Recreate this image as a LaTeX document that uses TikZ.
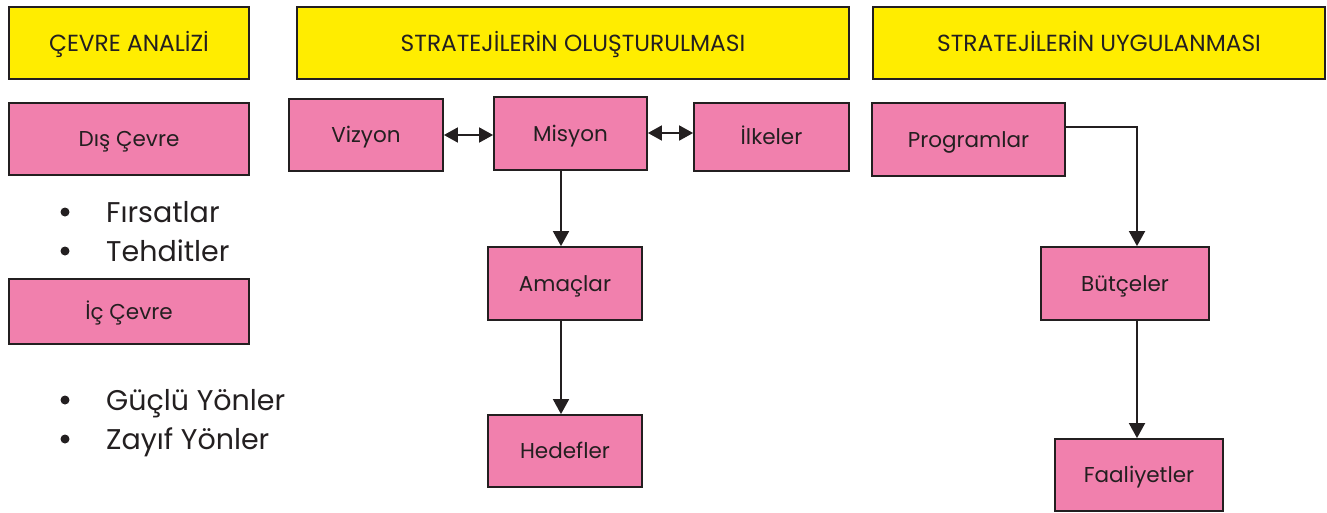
\documentclass[tikz,border=0pt]{standalone}
\usepackage{fontspec}
\setmainfont{Poppins}
\usetikzlibrary{arrows.meta}
\definecolor{ylw}{RGB}{255,237,0}
\definecolor{pnk}{RGB}{241,128,173}
\definecolor{ink}{RGB}{35,31,32}
\tikzset{
  boxbase/.style={draw=ink, line width=1.8pt, rectangle, inner sep=0pt, text=ink,
    text height=15pt, text depth=0pt, font=\fontsize{21.5}{25}\selectfont},
  headbox/.style={boxbase, fill=ylw, text height=16pt, font=\fontsize{23.3}{27}\selectfont},
  pinkbox/.style={boxbase, fill=pnk},
  listitem/.style={anchor=base west, inner sep=0pt, text=ink, font=\fontsize{28.5}{33}\selectfont},
  dot/.style={circle, fill=ink, inner sep=0pt, minimum size=9pt},
  arr/.style={draw=ink, line width=1.8pt, -{Triangle[length=15pt,width=16pt]}},
  darr/.style={draw=ink, line width=1.8pt, {Triangle[length=14pt,width=15pt]}-{Triangle[length=14pt,width=15pt]}}
}
\begin{document}
\begin{tikzpicture}[x=1pt,y=-1pt]
\useasboundingbox (0,0) rectangle (1327,512);
% headers
\node[headbox, minimum width=240pt, minimum height=72pt] (h1) at (129,43) {ÇEVRE ANALİZİ};
\node[headbox, minimum width=552pt, minimum height=72pt] (h2) at (573,43) {STRATEJİLERİN OLUŞTURULMASI};
\node[headbox, minimum width=452pt, minimum height=72pt] (h3) at (1099,43) {STRATEJİLERİN UYGULANMASI};
% left column
\node[pinkbox, minimum width=240pt, minimum height=72pt] (dis) at (129,139) {Dış Çevre};
\node[pinkbox, minimum width=240pt, minimum height=65pt] (ic) at (129,311.5) {İç Çevre};
\node[dot] (b1) at (65,212) {};
\node[dot] (b2) at (65,251) {};
\node[dot] (b3) at (65,400) {};
\node[dot] (b4) at (65,439) {};
\node[listitem] (l1) at (106,222) {Fırsatlar};
\node[listitem] (l2) at (106,261) {Tehditler};
\node[listitem] (l3) at (106,410) {Güçlü Yönler};
\node[listitem] (l4) at (106,449) {Zayıf Yönler};
% middle
\node[pinkbox, minimum width=154pt, minimum height=72pt] (vizyon) at (366,135) {Vizyon};
\node[pinkbox, minimum width=153pt, minimum height=73pt] (misyon) at (570.5,133.5) {Misyon};
\node[pinkbox, minimum width=155pt, minimum height=68pt] (ilkeler) at (771.5,137) {İlkeler};
\node[pinkbox, minimum width=154pt, minimum height=73pt] (amaclar) at (565,283.5) {Amaçlar};
\node[pinkbox, minimum width=154pt, minimum height=72pt] (hedefler) at (565,451) {Hedefler};
% right
\node[pinkbox, minimum width=193pt, minimum height=73pt] (programlar) at (968.5,139.5) {Programlar};
\node[pinkbox, minimum width=168pt, minimum height=73pt] (butceler) at (1125,283.5) {Bütçeler};
\node[pinkbox, minimum width=168pt, minimum height=72pt] (faaliyetler) at (1139,475) {Faaliyetler};
% helper coordinates
\coordinate (mx) at (561,0);
\coordinate (vy) at (0,135);
\coordinate (iy) at (0,133);
\coordinate (bx) at (1137,127);
% connectors
\draw[darr] (vizyon.east |- vy) -- (misyon.west |- vy);
\draw[darr] (misyon.east |- iy) -- (ilkeler.west |- iy);
\draw[arr] (misyon.south -| mx) -- (amaclar.north -| mx);
\draw[arr] (amaclar.south -| mx) -- (hedefler.north -| mx);
\draw[arr] (programlar.east |- bx) -- (bx) -- (butceler.north -| bx);
\draw[arr] (butceler.south -| bx) -- (faaliyetler.north -| bx);
\end{tikzpicture}
\end{document}
